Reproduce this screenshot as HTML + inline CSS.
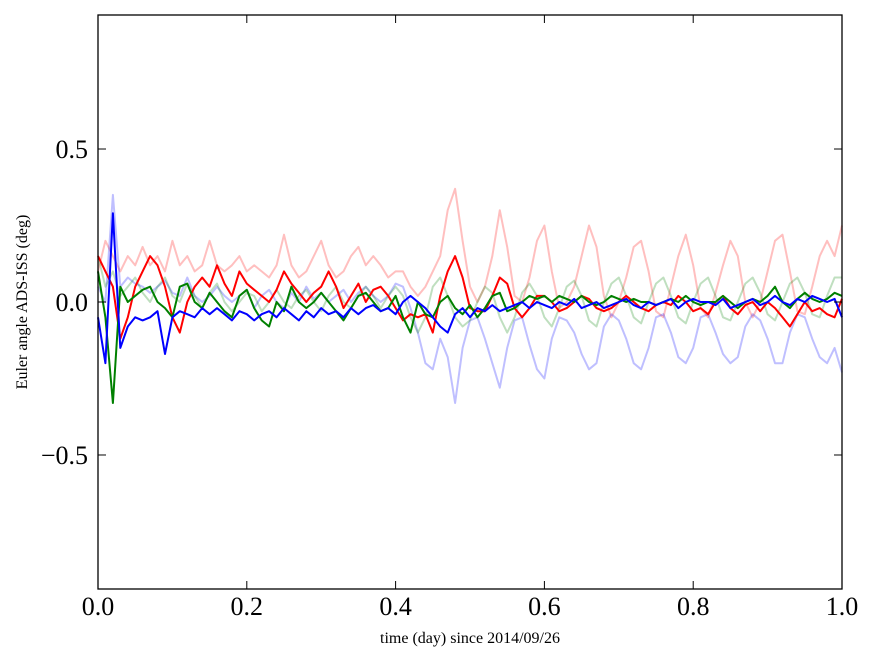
<!DOCTYPE html>
<html><head><meta charset="utf-8"><style>
body{margin:0;background:#fff;}
text{font-family:"Liberation Serif",serif;}
</style></head><body>
<svg id="chart" width="875" height="662" xmlns="http://www.w3.org/2000/svg">
<rect width="875" height="662" fill="#fff"/>
<g id="series"></g>
<rect x="98" y="15" width="744" height="574" fill="none" stroke="#000" stroke-width="1.3"/>
<g id="axes"></g>
<text x="470" y="643" font-size="16" text-anchor="middle">time (day) since 2014/09/26</text>
<text transform="translate(27,302) rotate(-90)" font-size="16" text-anchor="middle">Euler angle ADS-ISS (deg)</text>
</svg>
<script>
const xTicks=[0,0.2,0.4,0.6,0.8,1.0];
const xTickLabels=["0.0","0.2","0.4","0.6","0.8","1.0"];
const yTicks=[0.5,0,-0.5];
const yTickLabels=["0.5","0.0","\u22120.5"];
const fadedRed=[0.1,0.2,0.15,0.1,0.15,0.12,0.18,0.12,0.15,0.1,0.2,0.12,0.15,0.1,0.12,0.2,0.12,0.1,0.12,0.15,0.1,0.12,0.1,0.08,0.12,0.22,0.12,0.08,0.1,0.15,0.2,0.12,0.08,0.1,0.15,0.18,0.12,0.15,0.12,0.08,0.1,0.1,0.05,0.02,0.05,0.1,0.15,0.3,0.37,0.2,0.05,0.0,0.05,0.15,0.3,0.18,0.02,0.0,0.08,0.2,0.25,0.1,-0.02,0.0,0.05,0.15,0.25,0.18,0.02,-0.05,0.0,0.08,0.18,0.2,0.1,-0.03,-0.05,0.05,0.15,0.22,0.12,-0.02,-0.05,0.03,0.12,0.2,0.15,0.0,-0.05,0.0,0.1,0.2,0.22,0.1,-0.03,-0.04,0.05,0.15,0.2,0.15,0.25];
const fadedBlue=[0.05,0.0,0.35,0.05,0.08,0.06,0.05,0.03,0.05,0.07,0.03,0.02,0.08,0.02,0.0,0.02,0.05,0.02,0.0,0.02,0.04,-0.02,0.02,0.04,0.0,-0.02,0.03,0.0,0.05,0.01,0.03,0.0,0.02,0.04,0.0,0.03,0.05,0.02,0.0,0.02,0.06,0.05,-0.02,-0.1,-0.2,-0.22,-0.12,-0.18,-0.33,-0.15,-0.06,-0.05,-0.12,-0.2,-0.28,-0.15,-0.06,-0.05,-0.14,-0.22,-0.25,-0.12,-0.05,-0.06,-0.1,-0.17,-0.22,-0.2,-0.08,-0.04,-0.06,-0.12,-0.2,-0.22,-0.15,-0.05,-0.04,-0.1,-0.18,-0.2,-0.15,-0.05,-0.04,-0.1,-0.17,-0.2,-0.18,-0.08,-0.04,-0.06,-0.12,-0.2,-0.2,-0.1,-0.04,-0.05,-0.12,-0.18,-0.2,-0.15,-0.23];
const fadedGreen=[0.15,0.05,0.1,0.02,0.05,0.08,0.03,0.0,0.05,0.08,0.02,0.0,0.06,0.02,-0.02,0.03,0.06,0.0,-0.03,0.0,0.03,0.02,-0.03,0.0,0.04,0.0,-0.02,0.02,0.04,0.0,-0.03,0.02,0.05,0.0,-0.02,0.02,0.05,0.02,-0.02,0.02,0.05,0.02,-0.05,-0.1,-0.05,0.05,0.08,0.02,-0.05,-0.08,-0.06,0.0,0.05,0.03,-0.05,-0.1,-0.05,0.03,0.06,0.02,-0.05,-0.08,-0.02,0.05,0.07,0.02,-0.06,-0.08,0.0,0.06,0.08,0.02,-0.05,-0.07,0.0,0.06,0.08,0.02,-0.05,-0.07,0.0,0.06,0.08,0.02,-0.05,-0.06,0.0,0.06,0.08,0.03,-0.04,-0.06,0.0,0.06,0.08,0.03,-0.04,-0.05,0.02,0.08,0.08];
const red=[0.15,0.1,0.05,-0.12,-0.05,0.05,0.1,0.15,0.12,0.05,-0.05,-0.1,0.0,0.05,0.08,0.05,0.12,0.06,0.02,0.1,0.06,0.04,0.02,0.0,0.04,0.1,0.06,0.03,0.0,0.03,0.05,0.1,0.05,-0.02,0.02,0.06,0.0,0.04,0.05,0.02,-0.02,-0.06,-0.04,-0.05,-0.04,-0.1,0.02,0.1,0.15,0.08,-0.02,-0.03,-0.03,0.02,0.08,0.06,-0.02,-0.05,-0.02,0.02,0.02,0.0,-0.03,-0.02,0.0,0.02,0.01,-0.02,-0.03,-0.02,0.0,0.02,0.0,-0.02,-0.03,-0.01,0.0,-0.01,0.02,0.0,-0.03,-0.02,-0.04,0.0,0.02,-0.02,-0.04,-0.01,0.0,-0.03,0.0,-0.02,-0.05,-0.08,-0.04,0.0,-0.03,-0.02,-0.04,-0.05,0.01];
const green=[0.1,-0.05,-0.33,0.05,0.0,0.02,0.04,0.05,0.0,-0.02,-0.05,0.05,0.06,0.0,-0.02,0.03,0.0,-0.03,-0.05,0.02,0.04,-0.02,-0.06,-0.08,0.0,-0.03,0.05,0.0,-0.02,0.0,0.03,0.0,-0.03,-0.06,-0.02,0.02,0.03,0.0,-0.03,-0.02,0.02,-0.05,-0.1,0.0,-0.04,-0.05,0.0,0.02,-0.02,-0.04,-0.01,-0.05,-0.02,0.02,0.03,-0.03,-0.02,0.0,0.02,0.01,0.02,0.0,0.02,0.01,0.0,0.02,0.0,-0.01,0.0,0.02,0.01,0.0,0.01,0.0,0.0,-0.01,0.0,0.01,0.0,0.02,0.0,-0.01,0.0,0.0,0.02,0.0,-0.02,0.0,0.01,0.0,0.02,0.05,0.0,-0.02,0.01,0.03,0.01,0.0,0.01,0.03,0.02];
const blue=[-0.05,-0.2,0.29,-0.15,-0.08,-0.05,-0.06,-0.05,-0.03,-0.17,-0.05,-0.03,-0.04,-0.05,-0.02,-0.04,-0.02,-0.04,-0.06,-0.03,-0.04,-0.06,-0.04,-0.03,-0.05,-0.02,-0.04,-0.06,-0.03,-0.05,-0.02,-0.04,-0.03,-0.05,-0.02,-0.04,-0.02,-0.01,-0.03,-0.02,-0.04,0.0,0.02,0.0,-0.02,-0.05,-0.08,-0.1,-0.04,-0.02,-0.05,-0.02,-0.03,-0.01,-0.03,-0.02,-0.01,0.0,-0.02,0.0,-0.01,-0.02,0.0,-0.01,0.01,-0.02,-0.01,0.0,-0.02,-0.01,0.0,0.01,-0.01,-0.02,0.0,-0.01,0.0,0.01,-0.02,0.0,0.01,0.0,0.0,-0.01,0.01,-0.02,-0.01,0.0,0.01,-0.01,0.0,0.02,0.0,-0.01,0.01,0.0,0.02,0.01,0.0,0.01,-0.05];

const X0=98,X1=842,Y0=15,Y1=589,YMIN=-0.938,YMAX=0.938;
function sx(v){return X0+(v-0)/(1-0)*(X1-X0);}
function sy(v){return Y1-(v-YMIN)/(YMAX-YMIN)*(Y1-Y0);}
const NS="http://www.w3.org/2000/svg";
const sg=document.getElementById('series');
function line(data,color,op,name){
  const p=document.createElementNS(NS,'path');
  let d='';
  data.forEach((v,i)=>{d+=(i?'L':'M')+sx(i/(data.length-1)).toFixed(1)+','+sy(v).toFixed(1);});
  p.setAttribute('d',d);p.setAttribute('fill','none');p.setAttribute('stroke',color);
  p.setAttribute('stroke-opacity',op);p.setAttribute('stroke-width','2');p.setAttribute('stroke-linejoin','round');
  
  
  sg.appendChild(p);
}
line(fadedRed,'#ff0000',0.25,'faded-red-series');
line(fadedBlue,'#0000ff',0.25,'faded-blue-series');
line(fadedGreen,'#008000',0.25,'faded-green-series');
line(red,'#ff0000',1,'red-series');
line(green,'#008000',1,'green-series');
line(blue,'#0000ff',1,'blue-series');
const ax=document.getElementById('axes');
function mk(tag,attrs,txt){const e=document.createElementNS(NS,tag);for(const k in attrs)e.setAttribute(k,attrs[k]);if(txt!==undefined)e.textContent=txt;ax.appendChild(e);return e;}
xTicks.forEach((t,i)=>{
  const x=sx(t);
  const a=mk('line',{x1:x,x2:x,y1:Y1,y2:Y1-8,stroke:'#000'});
  
  
  const b=mk('line',{x1:x,x2:x,y1:Y0,y2:Y0+8,stroke:'#000'});
  
  
  const l=mk('text',{x:x,y:615,'font-size':'26','text-anchor':'middle'},xTickLabels[i]);
  
  
});
yTicks.forEach((t,i)=>{
  const y=sy(t);
  const a=mk('line',{x1:X0,x2:X0+8,y1:y,y2:y,stroke:'#000'});
  
  
  const b=mk('line',{x1:X1,x2:X1-8,y1:y,y2:y,stroke:'#000'});
  
  
  const l=mk('text',{x:88,y:y+9,'font-size':'26','text-anchor':'end'},yTickLabels[i]);
  
  
});
</script>
</body></html>
